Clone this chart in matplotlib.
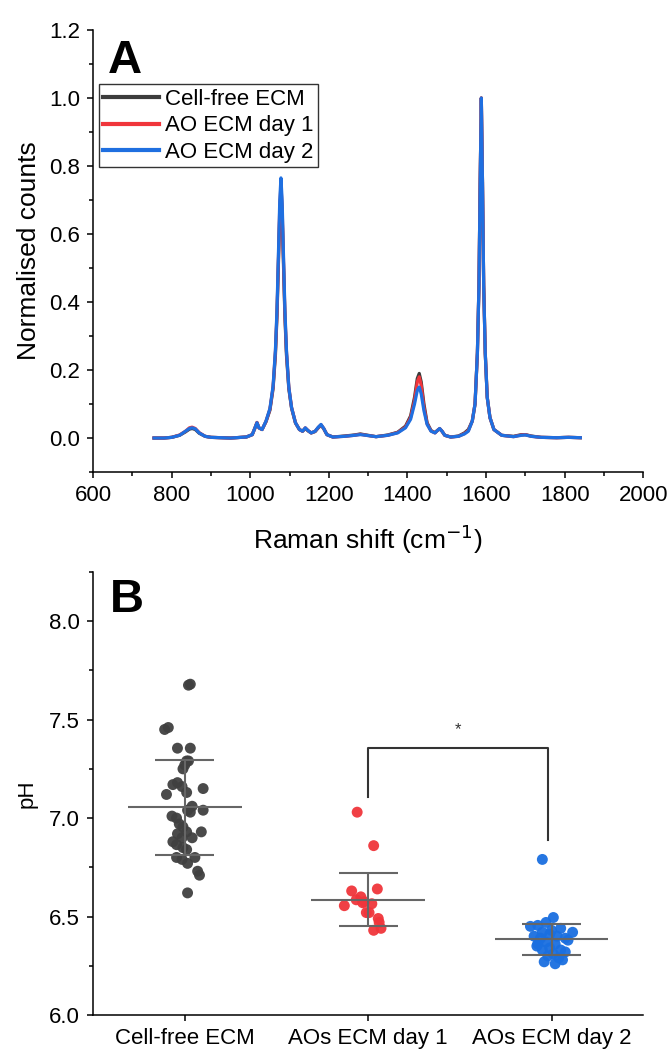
import matplotlib
matplotlib.use("Agg")
import matplotlib.pyplot as plt
from matplotlib.ticker import MultipleLocator

plt.rcParams["font.family"] = ["Liberation Sans", "DejaVu Sans"]

# ---------------- PANEL A DATA (Raman spectra) ----------------
shift = [755, 780, 800, 820, 835, 845, 852, 860, 870, 885, 900, 950, 990, 1005,
         1012, 1017, 1022, 1030, 1040, 1050, 1058, 1064, 1068, 1072, 1075, 1078,
         1081, 1084, 1088, 1092, 1098, 1105, 1115, 1125, 1133, 1140, 1147, 1155,
         1165, 1173, 1180, 1187, 1195, 1210, 1240, 1265, 1280, 1295, 1320, 1350,
         1375, 1395, 1408, 1418, 1425, 1430, 1435, 1442, 1450, 1460, 1470, 1476,
         1482, 1488, 1495, 1510, 1530, 1545, 1555, 1565, 1572, 1578, 1582, 1585,
         1588, 1591, 1594, 1598, 1603, 1610, 1620, 1640, 1670, 1690, 1700, 1715,
         1740, 1780, 1810, 1840]

cell_free = [0.0, 0.0, 0.002, 0.008, 0.018, 0.026, 0.028, 0.025, 0.014, 0.005,
             0.002, 0.0, 0.003, 0.01, 0.03, 0.045, 0.03, 0.025, 0.048, 0.082,
             0.145, 0.245, 0.36, 0.53, 0.66, 0.725, 0.66, 0.53, 0.36, 0.245,
             0.145, 0.088, 0.044, 0.025, 0.02, 0.028, 0.021, 0.015, 0.019, 0.03,
             0.038, 0.027, 0.01, 0.003, 0.006, 0.009, 0.012, 0.009, 0.004, 0.009,
             0.017, 0.035, 0.065, 0.12, 0.175, 0.19, 0.165, 0.1, 0.045, 0.022,
             0.016, 0.022, 0.027, 0.02, 0.008, 0.003, 0.006, 0.015, 0.025, 0.05,
             0.1, 0.25, 0.45, 0.75, 1.0, 0.75, 0.45, 0.25, 0.12, 0.06, 0.025,
             0.008, 0.005, 0.01, 0.01, 0.006, 0.002, 0.001, 0.002, 0.001]

ao_day1 = [0.0, 0.0, 0.002, 0.009, 0.02, 0.03, 0.032, 0.028, 0.016, 0.005,
           0.002, 0.0, 0.003, 0.01, 0.03, 0.046, 0.03, 0.025, 0.049, 0.085,
           0.15, 0.255, 0.37, 0.545, 0.68, 0.745, 0.68, 0.545, 0.37, 0.255,
           0.15, 0.09, 0.045, 0.025, 0.02, 0.03, 0.022, 0.015, 0.02, 0.031,
           0.039, 0.028, 0.01, 0.003, 0.005, 0.008, 0.011, 0.008, 0.004, 0.008,
           0.016, 0.032, 0.06, 0.11, 0.165, 0.18, 0.155, 0.09, 0.042, 0.021,
           0.015, 0.022, 0.028, 0.02, 0.008, 0.003, 0.005, 0.013, 0.022, 0.05,
           0.1, 0.25, 0.45, 0.75, 1.0, 0.75, 0.45, 0.25, 0.12, 0.06, 0.025,
           0.008, 0.004, 0.009, 0.01, 0.005, 0.002, 0.001, 0.002, 0.001]

ao_day2 = [0.0, 0.0, 0.002, 0.008, 0.02, 0.028, 0.03, 0.027, 0.015, 0.005,
           0.002, 0.0, 0.003, 0.01, 0.03, 0.045, 0.03, 0.025, 0.05, 0.087,
           0.153, 0.26, 0.38, 0.56, 0.70, 0.765, 0.70, 0.56, 0.38, 0.26,
           0.15, 0.09, 0.045, 0.025, 0.02, 0.03, 0.022, 0.015, 0.02, 0.032,
           0.04, 0.028, 0.01, 0.003, 0.005, 0.008, 0.01, 0.008, 0.004, 0.008,
           0.015, 0.03, 0.055, 0.10, 0.14, 0.15, 0.13, 0.08, 0.04, 0.02,
           0.015, 0.022, 0.028, 0.02, 0.008, 0.003, 0.005, 0.012, 0.02, 0.05,
           0.10, 0.25, 0.45, 0.75, 1.0, 0.75, 0.45, 0.25, 0.12, 0.06, 0.025,
           0.008, 0.004, 0.008, 0.009, 0.005, 0.002, 0.001, 0.002, 0.001]

spectra_labels = ["Cell-free ECM", "AO ECM day 1", "AO ECM day 2"]
spectra_colors = ["#3c3c3c", "#f0353b", "#1f6fe0"]

# ---------------- PANEL B DATA (pH) ----------------
groups = ["Cell-free ECM", "AOs ECM day 1", "AOs ECM day 2"]
group_colors = ["#404040", "#f0353b", "#1a6fe0"]

ph_cell_free = [7.675, 7.68, 7.45, 7.46, 7.355, 7.355, 7.29, 7.29, 7.27, 7.25,
                7.17, 7.18, 7.16, 7.13, 7.15, 7.12, 7.06, 7.04, 7.03, 7.04,
                7.01, 7.0, 6.97, 6.955, 6.93, 6.93, 6.92, 6.90, 6.90, 6.88,
                6.865, 6.85, 6.84, 6.80, 6.79, 6.77, 6.80, 6.73, 6.71, 6.62]
jit_cell_free = [0.02, 0.03, -0.11, -0.09, -0.04, 0.03, 0.01, 0.02, 0.0, -0.01,
                 -0.065, -0.04, -0.015, 0.01, 0.1, -0.10, 0.04, 0.015, 0.03, 0.1,
                 -0.07, -0.045, -0.03, -0.01, 0.01, 0.09, -0.04, -0.015, 0.04, -0.065,
                 -0.045, -0.01, 0.01, -0.045, -0.015, 0.015, 0.055, 0.07, 0.08, 0.015]

ph_day1 = [7.03, 6.86, 6.64, 6.63, 6.60, 6.585, 6.575, 6.57, 6.565, 6.555,
           6.52, 6.52, 6.49, 6.47, 6.44, 6.43]
jit_day1 = [-0.06, 0.03, 0.05, -0.09, -0.04, -0.065, -0.02, -0.03, 0.02, -0.13,
            -0.01, 0.005, 0.055, 0.06, 0.07, 0.03]

ph_day2 = [6.79, 6.495, 6.45, 6.455, 6.47, 6.44, 6.42, 6.42, 6.41, 6.40,
           6.40, 6.39, 6.37, 6.36, 6.36, 6.34, 6.33, 6.33, 6.31, 6.32,
           6.27, 6.26, 6.29, 6.38, 6.35, 6.30, 6.43, 6.39, 6.28]
jit_day2 = [-0.05, 0.01, -0.115, -0.075, -0.03, 0.05, 0.115, -0.05, -0.01, 0.03,
            -0.095, 0.075, -0.03, 0.02, -0.075, -0.01, 0.05, -0.05, 0.01, 0.075,
            -0.04, 0.02, 0.04, 0.09, -0.08, -0.02, 0.0, -0.06, 0.06]

means = [7.055, 6.585, 6.385]
sds = [0.24, 0.135, 0.078]

# ---------------- FIGURE ----------------
fig = plt.figure(figsize=(6.7, 10.52), dpi=100)

tick_kw = dict(direction="out", labelsize=16, width=1.1, length=4.5, pad=5)

# ---- PANEL A ----
axA = fig.add_axes([0.139, 0.5513, 0.821, 0.4202])
for y, lab, col in zip([cell_free, ao_day1, ao_day2], spectra_labels, spectra_colors):
    axA.plot(shift, y, color=col, lw=2.3, label=lab)

axA.set_xlim(600, 2000)
axA.set_ylim(-0.1, 1.2)
axA.xaxis.set_major_locator(MultipleLocator(200))
axA.xaxis.set_minor_locator(MultipleLocator(100))
axA.yaxis.set_major_locator(MultipleLocator(0.2))
axA.yaxis.set_minor_locator(MultipleLocator(0.1))
axA.yaxis.set_major_formatter(plt.FormatStrFormatter("%.1f"))
axA.tick_params(which="major", **tick_kw)
axA.tick_params(which="minor", direction="out", width=1.1, length=3)
for s in ["top", "right"]:
    axA.spines[s].set_visible(False)
for s in ["left", "bottom"]:
    axA.spines[s].set_linewidth(1.1)
axA.set_xlabel("Raman shift (cm$^{-1}$)", fontsize=19, labelpad=12)
axA.set_ylabel("Normalised counts", fontsize=19, labelpad=6)
axA.text(0.027, 0.98, "A", transform=axA.transAxes, fontsize=34,
         fontweight="bold", va="top", ha="left")
leg = axA.legend(loc="upper left", bbox_to_anchor=(0.01, 0.877), borderaxespad=0,
                 fontsize=16, fancybox=False, edgecolor="#333333", framealpha=1,
                 handlelength=2.5, handletextpad=0.3, labelspacing=0.25,
                 borderpad=0.2)
leg.get_frame().set_linewidth(1.0)
for line in leg.get_lines():
    line.set_linewidth(3)

# ---- PANEL B ----
axB = fig.add_axes([0.139, 0.0352, 0.821, 0.4211])
xs = [1, 2, 3]
for i, (vals, jit) in enumerate([(ph_cell_free, jit_cell_free),
                                  (ph_day1, jit_day1),
                                  (ph_day2, jit_day2)]):
    axB.scatter([xs[i] + j for j in jit], vals, s=62, color=group_colors[i],
                edgecolors="none", alpha=0.95, zorder=2)
    m, sd = means[i], sds[i]
    axB.hlines(m, xs[i] - 0.31, xs[i] + 0.31, color="#666666", lw=1.5, zorder=3)
    axB.hlines([m - sd, m + sd], xs[i] - 0.16, xs[i] + 0.16, color="#666666",
               lw=1.5, zorder=3)
    axB.vlines(xs[i], m - sd, m + sd, color="#666666", lw=1.5, zorder=3)

# significance bracket
axB.plot([2, 2, 2.98, 2.98], [7.107, 7.355, 7.355, 6.89], color="#333333",
         lw=1.5, zorder=3)
axB.text(2.49, 7.41, "*", ha="center", va="bottom", fontsize=12, color="#333333")

axB.set_xlim(0.5, 3.5)
axB.set_ylim(6.0, 8.25)
axB.set_xticks(xs)
axB.set_xticklabels(groups)
axB.yaxis.set_major_locator(MultipleLocator(0.5))
axB.yaxis.set_minor_locator(MultipleLocator(0.25))
axB.yaxis.set_major_formatter(plt.FormatStrFormatter("%.1f"))
axB.tick_params(which="major", **tick_kw)
axB.tick_params(which="minor", direction="out", width=1.1, length=3)
for s in ["top", "right"]:
    axB.spines[s].set_visible(False)
for s in ["left", "bottom"]:
    axB.spines[s].set_linewidth(1.1)
axB.set_ylabel("pH", fontsize=16, labelpad=8)
axB.text(0.03, 0.986, "B", transform=axB.transAxes, fontsize=34,
         fontweight="bold", va="top", ha="left")

plt.savefig("out.png", dpi=100)
